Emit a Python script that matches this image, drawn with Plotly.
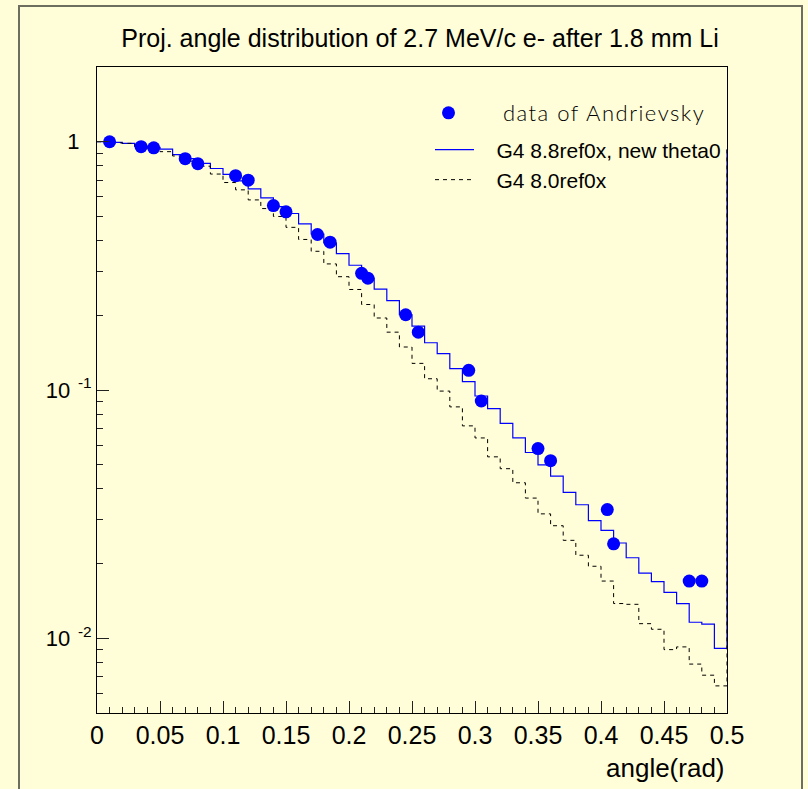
import math
import plotly.graph_objects as go

# ---------------- data ----------------
bin_lo = [0.00, 0.01, 0.02, 0.03, 0.04, 0.05, 0.06, 0.07, 0.08, 0.09,
          0.10, 0.11, 0.12, 0.13, 0.14, 0.15, 0.16, 0.17, 0.18, 0.19,
          0.20, 0.21, 0.22, 0.23, 0.24, 0.25, 0.26, 0.27, 0.28, 0.29,
          0.30, 0.31, 0.32, 0.33, 0.34, 0.35, 0.36, 0.37, 0.38, 0.39,
          0.40, 0.41, 0.42, 0.43, 0.44, 0.45, 0.46, 0.47, 0.48, 0.49]
x_end = 0.5

g4_88_new = [1.0, 0.995, 0.985, 0.96, 0.95, 0.933, 0.887, 0.855, 0.818, 0.78,
             0.739, 0.695, 0.646, 0.594, 0.548, 0.514, 0.467, 0.425, 0.391, 0.354,
             0.318, 0.282, 0.255, 0.229, 0.201, 0.181, 0.155, 0.140, 0.122, 0.108,
             0.0946, 0.0841, 0.0734, 0.0641, 0.056, 0.0499, 0.045, 0.0387, 0.0345, 0.0298,
             0.0272, 0.0242, 0.0211, 0.0183, 0.0169, 0.0153, 0.0138, 0.0116, 0.0114, 0.0091]
g4_88_overflow = 0.93

g4_80 = [1.0, 0.99, 0.985, 0.955, 0.94, 0.912, 0.876, 0.835, 0.797, 0.741,
         0.685, 0.64, 0.583, 0.538, 0.50, 0.452, 0.404, 0.362, 0.322, 0.286,
         0.254, 0.221, 0.195, 0.171, 0.149, 0.128, 0.111, 0.099, 0.0855, 0.0717,
         0.0641, 0.0538, 0.0482, 0.0423, 0.0367, 0.0317, 0.0284, 0.0248, 0.0216, 0.0195,
         0.0170, 0.0138, 0.0137, 0.01145, 0.01087, 0.0090, 0.00923, 0.00787, 0.0071, 0.00643]
g4_80_overflow = 0.93

data_x = [0.01, 0.035, 0.045, 0.07, 0.08, 0.11, 0.12, 0.14, 0.15, 0.175, 0.185,
          0.21, 0.215, 0.245, 0.255, 0.295, 0.305, 0.35, 0.36, 0.405, 0.41, 0.47, 0.48]
data_y = [1.0, 0.955, 0.945, 0.855, 0.816, 0.73, 0.70, 0.553, 0.522, 0.423, 0.394,
          0.295, 0.282, 0.201, 0.171, 0.120, 0.0903, 0.0581, 0.0519, 0.033, 0.024, 0.017, 0.017]

x_ticks = [0, 0.05, 0.1, 0.15, 0.2, 0.25, 0.3, 0.35, 0.4, 0.45, 0.5]
x_ticktext = ["0", "0.05", "0.1", "0.15", "0.2", "0.25", "0.3", "0.35", "0.4", "0.45", "0.5"]
y_ticks = [0.01, 0.1, 1]
y_ticktext = ["10<sup>\u2002-2</sup>", "10<sup>\u2002-1</sup>", "1\u00a0\u00a0"]
y_minor = [0.006, 0.007, 0.008, 0.009,
           0.02, 0.03, 0.04, 0.05, 0.06, 0.07, 0.08, 0.09,
           0.2, 0.3, 0.4, 0.5, 0.6, 0.7, 0.8, 0.9]
y_range = [0.005, 2.0]

title_text = "Proj. angle distribution of 2.7 MeV/c e- after 1.8 mm Li"
x_title = "angle(rad)"
name_data = "data of Andrievsky"
name_new = "G4 8.8ref0x, new theta0"
name_old = "G4 8.0ref0x"

# ---------------- layout geometry ----------------
W, H = 808, 789
L, R, T, B = 97, 81, 67, 76
pw, ph = W - L - R, H - T - B


def px_x(p):
    return (p - L) / pw


def px_y(p):
    return (H - B - p) / ph


BG = "#fffed8"
FONT = "Liberation Sans, Arial, sans-serif"
PAD = "\u00a0\u00a0\u00a0"

fig = go.Figure()

fig.add_trace(go.Scatter(
    x=bin_lo + [x_end, x_end], y=g4_88_new + [g4_88_new[-1], g4_88_overflow],
    mode="lines", line=dict(color="#0000ff", width=1.2, shape="hv"),
    name=PAD + name_new, legend="legend2"))

fig.add_trace(go.Scatter(
    x=bin_lo + [x_end, x_end], y=g4_80 + [g4_80[-1], g4_80_overflow],
    mode="lines", line=dict(color="#000000", width=1, shape="hv", dash="4px,4px"),
    name=PAD + name_old, legend="legend3"))

fig.add_trace(go.Scatter(
    x=data_x, y=data_y, mode="markers",
    marker=dict(color="#0000ff", size=13, symbol="circle"),
    name=PAD + "\u00a0\u00a0" + '<span style="letter-spacing:1.5px">' + name_data + "</span>",
    legend="legend"))

leg_common = dict(bgcolor="rgba(0,0,0,0)", borderwidth=0, xanchor="left",
                  yanchor="middle", itemwidth=39)

fig.update_layout(
    width=W, height=H,
    paper_bgcolor=BG, plot_bgcolor=BG,
    margin=dict(l=L, r=R, t=T, b=B),
    showlegend=True,
    title=dict(text=title_text, x=420 / W, xref="container", xanchor="center",
               y=1 - 38 / H, yref="container", yanchor="middle",
               font=dict(family=FONT, size=25, color="black")),
    legend=dict(**leg_common, x=px_x(424), y=px_y(113),
                font=dict(family="Lato, DejaVu Sans, sans-serif", size=22, weight=300, color="black")),
    legend2=dict(**leg_common, x=px_x(430), y=px_y(150),
                 font=dict(family=FONT, size=21, color="black")),
    legend3=dict(**leg_common, x=px_x(430), y=px_y(180),
                 font=dict(family=FONT, size=21, color="black")),
    xaxis=dict(range=[0, 0.5], tickmode="array", tickvals=x_ticks, ticktext=x_ticktext,
               ticks="inside", ticklen=12, tickwidth=1, tickcolor="#222",
               showgrid=False, zeroline=False,
               showline=True, linecolor="black", linewidth=1, mirror=True,
               ticklabelstandoff=0,
               tickfont=dict(family=FONT, size=25, color="black"),
               minor=dict(dtick=0.01, ticks="inside", ticklen=6, tickcolor="#222",
                          tickwidth=1, showgrid=False)),
    yaxis=dict(type="log", range=[math.log10(y_range[0]), math.log10(y_range[1])],
               tickmode="array", tickvals=y_ticks, ticktext=y_ticktext,
               ticks="inside", ticklen=12, tickwidth=1, tickcolor="#222",
               showgrid=False, zeroline=False,
               showline=True, linecolor="black", linewidth=1, mirror=True,
               tickfont=dict(family=FONT, size=22, color="black"),
               minor=dict(tickmode="array", tickvals=y_minor, ticks="inside", ticklen=6,
                          tickcolor="#222", tickwidth=1, showgrid=False)),
)

# x-axis title (ROOT style: right aligned)
fig.add_annotation(text=x_title, xref="paper", yref="paper", x=1.0, y=px_y(768),
                   xanchor="right", yanchor="middle", showarrow=False,
                   font=dict(family=FONT, size=26, color="black"))

# outer pad border
fig.add_shape(type="rect", xref="paper", yref="paper",
              x0=px_x(19), x1=px_x(802), y0=px_y(800), y1=px_y(6),
              line=dict(color="#6e6e5e", width=2), fillcolor="rgba(0,0,0,0)", layer="below")

fig.write_html("out.html")
